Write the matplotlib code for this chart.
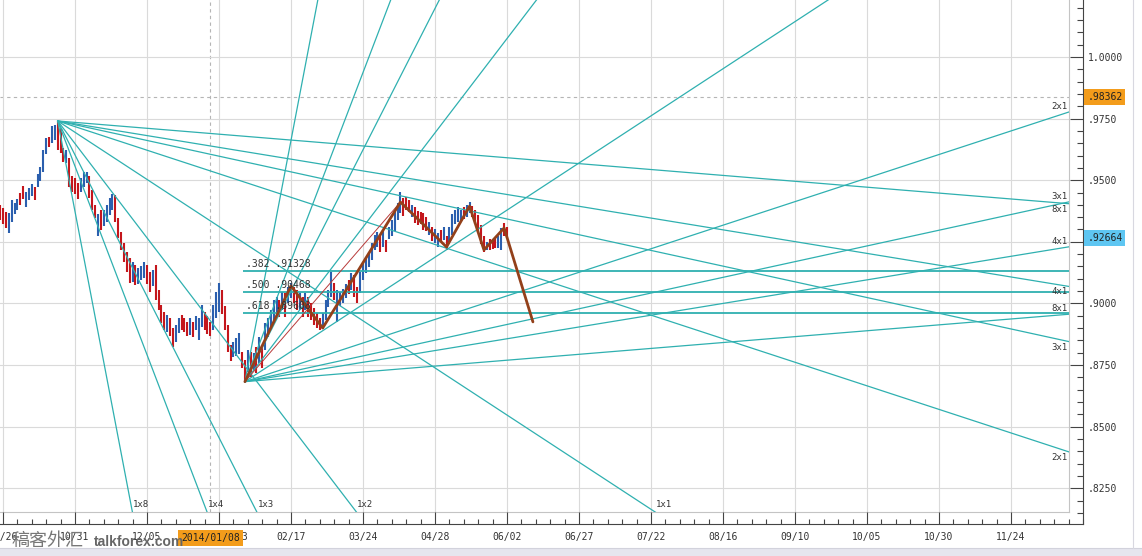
import matplotlib.pyplot as plt
from matplotlib.patches import Rectangle
from matplotlib.lines import Line2D
from matplotlib.ticker import MultipleLocator
from matplotlib.transforms import blended_transform_factory

plt.rcParams['font.family'] = ['DejaVu Sans Mono', 'Noto Sans CJK SC']

# daily bars, first one is bar -1 (cut at the left edge), bar 0 = 09/26
first_bar = -1
bar_high = [
    .9399, .9387, .9371, .9367, .9420, .9407, .9424, .9448, .9476, .9452,
    .9468, .9485, .9472, .9525, .9554, .9623, .9671, .9675, .9720, .9724,
    .9740, .9712, .9631, .9623, .9590, .9517, .9509, .9489, .9509, .9533,
    .9533, .9517, .9460, .9399, .9363, .9379, .9379, .9399, .9428, .9444,
    .9440, .9347, .9290, .9245, .9209, .9184, .9168, .9156, .9144, .9152,
    .9168, .9156, .9127, .9136, .9156, .9054, .8994, .8965, .8953, .8941,
    .8900, .8912, .8941, .8953, .8941, .8925, .8941, .8925, .8949, .8941,
    .8994, .8965, .8949, .8925, .8994, .9046, .9083, .9054, .8989, .8912,
    .8831, .8843, .8860, .8880, .8803, .8770, .8811, .8803, .8799, .8823,
    .8864, .8823, .8920, .8941, .8973, .9014, .9026, .9014, .9046, .9042,
    .9067, .9083, .9067, .9054, .9042, .9026, .9042, .9026, .9002, .8981,
    .8961, .8941, .8961, .9014, .9054, .9127, .9083, .9054, .9046, .9058,
    .9079, .9095, .9123, .9115, .9067, .9127, .9164, .9188, .9209, .9245,
    .9278, .9290, .9278, .9298, .9257, .9310, .9338, .9371, .9407, .9452,
    .9428, .9432, .9420, .9399, .9391, .9375, .9371, .9367, .9351, .9330,
    .9310, .9302, .9286, .9298, .9310, .9274, .9310, .9363, .9379, .9391,
    .9379, .9391, .9399, .9411, .9395, .9379, .9359, .9318, .9274, .9249,
    .9261, .9253, .9261, .9274, .9306, .9326, .9310,
]
bar_low = [
    .9338, .9322, .9306, .9286, .9330, .9363, .9379, .9399, .9424, .9391,
    .9420, .9436, .9420, .9472, .9497, .9533, .9606, .9635, .9651, .9663,
    .9623, .9610, .9574, .9570, .9472, .9452, .9444, .9424, .9452, .9472,
    .9489, .9428, .9379, .9347, .9274, .9298, .9314, .9330, .9359, .9379,
    .9330, .9265, .9217, .9168, .9127, .9083, .9087, .9075, .9079, .9095,
    .9103, .9079, .9046, .9071, .9014, .8973, .8920, .8892, .8884, .8868,
    .8823, .8843, .8880, .8892, .8884, .8868, .8872, .8864, .8892, .8851,
    .8904, .8892, .8876, .8868, .8892, .8941, .8965, .8957, .8892, .8803,
    .8766, .8782, .8787, .8795, .8738, .8682, .8722, .8701, .8730, .8718,
    .8758, .8738, .8811, .8864, .8892, .8920, .8961, .8945, .8973, .8945,
    .9002, .9022, .9002, .8973, .8973, .8945, .8973, .8945, .8933, .8912,
    .8900, .8892, .8896, .8933, .8985, .9026, .9014, .8925, .8989, .9002,
    .9022, .9038, .9054, .9026, .9002, .9042, .9095, .9123, .9148, .9176,
    .9217, .9229, .9209, .9229, .9209, .9261, .9274, .9294, .9338, .9367,
    .9355, .9379, .9371, .9351, .9326, .9318, .9322, .9298, .9294, .9278,
    .9253, .9245, .9229, .9253, .9257, .9217, .9249, .9278, .9322, .9330,
    .9334, .9342, .9351, .9367, .9351, .9322, .9290, .9241, .9209, .9217,
    .9217, .9221, .9225, .9225, .9217, .9274, .9265,
]
bar_dir = ('ddduuuuddu' 'uuduuuuduu' 'dddudddduu' 'uddduduuuu' 'dddddduduu'
           'udduddddud' 'duuddduduu' 'uddduuuddd' 'duuuddudud' 'uduuuuudud'
           'uuddududdd' 'dduuuuduuu' 'ududduuuuu' 'uududuuuuu' 'dddudddddu'
           'duududuuuu' 'uduudddddu' 'ddduudd')

tick_step = 25
date_labels = ['09/26', '10/31', '12/05', '2014/01/13', '02/17', '03/24', '04/28',
               '06/02', '06/27', '07/22', '08/16', '09/10', '10/05', '10/30', '11/24']
price_ticks = [0.825, 0.85, 0.875, 0.90, 0.925, 0.95, 0.975, 1.0]
price_labels = ['.8250', '.8500', '.8750', '.9000', '.9250', '.9500', '.9750', '1.0000']

# gann fans (origin bar, origin price), price per bar for 1x1
fan_top = (19, 0.97403)
fan_bottom = (84, 0.86824)
fan_unit = 0.000765
fan_names = ['1x8', '1x4', '1x3', '1x2', '1x1', '2x1', '3x1', '4x1', '8x1']

# fibonacci retracement
fib_high, fib_low = 0.94112, 0.86824
fib_bar, fib_high_bar = 84, 138
fib_ratios = [0.382, 0.5, 0.618]

# swing line
wave_bars = [84, 100, 111, 138, 154, 162, 167, 174, 184]
wave_prices = [0.86824, 0.9071, 0.8900, 0.94112, 0.9229, 0.9395, 0.9217, 0.9306, 0.8925]

cross_bar, cross_date = 72, '2014/01/08'
cross_price = 0.98362
last_price = 0.92664

# ---- pixel geometry of the chart ----
W, H = 1142, 556


def xb(px):
    return (px - 3) / 2.88


def yp(px):
    return 1.02313 - px * 0.025 / 61.6


CYAN = '#2fb0b0'
GRID = '#dadada'
TXT = '#333333'

fig = plt.figure(figsize=(W / 100, H / 100), dpi=100)
fig.patch.set_facecolor('white')

ax = fig.add_axes([0, 1 - 512 / H, 1069 / W, 512 / H])
ax.set_xlim(xb(0), xb(1069))
ax.set_ylim(yp(512), yp(0))
xmin, xmax = ax.get_xlim()
ymin, ymax = ax.get_ylim()
ppx = 0.025 / 61.6

ax.set_xticks(range(0, 351, tick_step))
ax.set_yticks(price_ticks)
ax.grid(color=GRID, lw=0.8)
ax.tick_params(left=False, bottom=False, labelleft=False, labelbottom=False)
for s in ['top', 'left']:
    ax.spines[s].set_visible(False)
for s in ['right', 'bottom']:
    ax.spines[s].set_color('#c4c4c4')

ax.axvline(cross_bar, color='#b5b5b5', lw=0.8, ls=(0, (3, 3)), zorder=1)
ax.axhline(cross_price, color='#b5b5b5', lw=0.8, ls=(0, (3, 3)), zorder=1)

# bars
n = min(len(bar_high), len(bar_low), len(bar_dir))
idx = [first_bar + i for i in range(n)]
cols = ['#2b5fae' if bar_dir[i] == 'u' else '#c4161c' for i in range(n)]
ax.vlines(idx, bar_low[:n], bar_high[:n], colors=cols, lw=1.5, zorder=2)

# gann fans
for (ox, oy), sign in [(fan_top, -1), (fan_bottom, 1)]:
    for name in fan_names:
        a, b = name.split('x')
        slope = sign * fan_unit * int(b) / int(a)
        ax.plot([ox, ox + 600], [oy, oy + slope * 600], color=CYAN, lw=0.9, zorder=3)
        y_right = oy + slope * (xmax - ox)
        if ymin < y_right < ymax:
            if sign < 0:
                ax.text(xmax - 0.6, y_right - 1 * ppx, name, ha='right', va='top',
                        fontsize=6.5, color=TXT, zorder=6)
            else:
                ax.text(xmax - 0.6, y_right + 1 * ppx, name, ha='right', va='bottom',
                        fontsize=6.5, color=TXT, zorder=6)
        elif sign < 0 and y_right < ymin:
            x_hit = ox + (oy - ymin) / abs(slope)
            ax.text(x_hit + 0.3, ymin + 3 * ppx, name, ha='left', va='bottom',
                    fontsize=6.5, color=TXT, zorder=6)

# fibonacci levels
for r in fib_ratios:
    lvl = fib_high - r * (fib_high - fib_low)
    ax.hlines(lvl, fib_bar - 0.6, xmax, color=CYAN, lw=1.3, zorder=3)
    ax.text(fib_bar + 0.3, lvl + 2 * ppx,
            '%s %s' % (('%.3f' % r).lstrip('0'), ('%.5f' % lvl).lstrip('0')),
            fontsize=7, color=TXT, ha='left', va='bottom', zorder=6)

ax.plot([fib_bar, fib_high_bar], [fib_low, fib_high], color='#b83a3a', lw=0.7, zorder=4)
ax.plot(wave_bars, wave_prices, color='#93401a', lw=2.0, zorder=5, solid_capstyle='round')

# x axis strip
axx = fig.add_axes([0, 1 - 524 / H, 1083 / W, 12 / H])
axx.set_xlim(xb(0), xb(1083))
axx.set_ylim(0, 1)
axx.patch.set_alpha(0)
for s in ['top', 'left', 'right']:
    axx.spines[s].set_visible(False)
axx.spines['bottom'].set_color('#444444')
axx.set_yticks([])
axx.set_xticks(range(0, 351, tick_step))
axx.set_xticklabels(date_labels)
axx.xaxis.set_minor_locator(MultipleLocator(5))
axx.tick_params(axis='x', which='major', direction='in', length=8.6, width=0.8,
                color='#444444', pad=6, labelsize=7, labelcolor=TXT)
axx.tick_params(axis='x', which='minor', direction='in', length=3.6, width=0.8,
                color='#444444')
tr_x = blended_transform_factory(axx.transData, fig.transFigure)
axx.text(cross_bar, 1 - 538 / H, cross_date, transform=tr_x, ha='center', va='center',
         fontsize=7, color='#222222', zorder=6, clip_on=False,
         bbox=dict(boxstyle='square,pad=0.35', fc='#f39c1b', ec='none'))

# y axis strip
ayy = fig.add_axes([1069 / W, 1 - 524 / H, 14 / W, 524 / H])
ayy.set_ylim(yp(524), yp(0))
ayy.set_xlim(0, 1)
ayy.patch.set_alpha(0)
for s in ['top', 'left', 'bottom']:
    ayy.spines[s].set_visible(False)
ayy.spines['right'].set_color('#444444')
ayy.set_xticks([])
ayy.yaxis.tick_right()
ayy.set_yticks(price_ticks)
ayy.set_yticklabels(price_labels)
ayy.yaxis.set_minor_locator(MultipleLocator(0.005))
ayy.tick_params(axis='y', which='major', direction='in', length=9.4, width=0.8,
                color='#444444', pad=3.5, labelsize=7, labelcolor=TXT)
ayy.tick_params(axis='y', which='minor', direction='in', length=4.3, width=0.8,
                color='#444444')
tr_y = blended_transform_factory(ayy.transAxes, ayy.transData)
ayy.text(1.3, cross_price, ('%.5f' % cross_price).lstrip('0'), transform=tr_y,
         ha='left', va='center', fontsize=7, color='#222222', zorder=6, clip_on=False,
         bbox=dict(boxstyle='square,pad=0.3', fc='#f39c1b', ec='none'))
ayy.text(1.3, last_price, ('%.5f' % last_price).lstrip('0'), transform=tr_y,
         ha='left', va='center', fontsize=7, color='#222222', zorder=6, clip_on=False,
         bbox=dict(boxstyle='square,pad=0.3', fc='#5ec6f2', ec='none'))

# frame bits and watermark
fig.add_artist(Rectangle((0, 0), 1, 8 / H, transform=fig.transFigure,
                         fc='#e6e6ee', ec='none'))
fig.add_artist(Line2D([0, 1], [8 / H, 8 / H], transform=fig.transFigure,
                      color='#d2d2dc', lw=0.8))
fig.add_artist(Line2D([1133 / W, 1133 / W], [8 / H, 1], transform=fig.transFigure,
                      color='#d8d8e0', lw=0.8))
fig.text(12 / W, 1 - 541 / H, '稿客外汇', family=['Noto Sans CJK SC'], fontsize=13,
         color='#787878', va='center', ha='left')
fig.text(94 / W, 1 - 542 / H, 'talkforex.com', family=['Liberation Sans', 'DejaVu Sans'],
         weight='bold', fontsize=10, color='#666666', va='center', ha='left')

fig.savefig('out.png', dpi=100)
